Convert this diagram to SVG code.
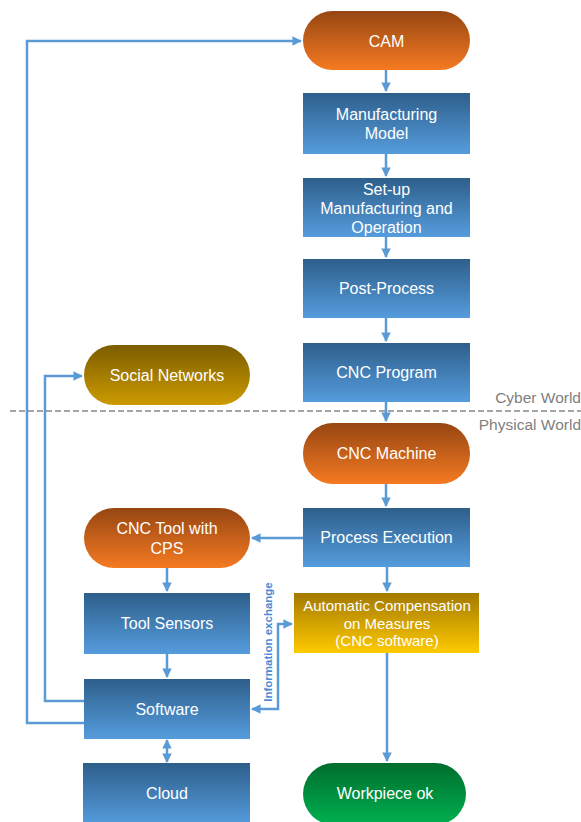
<svg xmlns="http://www.w3.org/2000/svg" width="581" height="822" viewBox="0 0 581 822">
<defs>
<linearGradient id="gBlue" x1="0" y1="0" x2="0" y2="1"><stop offset="0" stop-color="#2E5F8B"/><stop offset="1" stop-color="#559CDD"/></linearGradient>
<linearGradient id="gOrange" x1="0" y1="0" x2="0" y2="1"><stop offset="0" stop-color="#964612"/><stop offset="1" stop-color="#F57A22"/></linearGradient>
<linearGradient id="gGold" x1="0" y1="0" x2="0" y2="1"><stop offset="0" stop-color="#7C5D00"/><stop offset="1" stop-color="#CC9A00"/></linearGradient>
<linearGradient id="gYellow" x1="0" y1="0" x2="0" y2="1"><stop offset="0" stop-color="#A37900"/><stop offset="1" stop-color="#FFCA00"/></linearGradient>
<linearGradient id="gGreen" x1="0" y1="0" x2="0" y2="1"><stop offset="0" stop-color="#006D2E"/><stop offset="1" stop-color="#00B04F"/></linearGradient>
<marker id="ah" viewBox="0 0 10 10" refX="9" refY="5" markerWidth="3.8" markerHeight="3.8" orient="auto-start-reverse"><path d="M0,0 L10,5 L0,10 z" fill="#5B9BD5"/></marker>
</defs>
<style>
text{font-family:"Liberation Sans",Arial,sans-serif;}
.t{fill:#fff;font-size:16px;text-anchor:middle;}
.s{font-size:15px;}
.c{fill:none;stroke:#5B9BD5;stroke-width:2.5;}
.a{marker-end:url(#ah);}
.b{marker-start:url(#ah);marker-end:url(#ah);}
.w{fill:#7F7F7F;font-size:15.5px;text-anchor:end;}
</style>
<rect width="581" height="822" fill="#fff"/>
<line x1="10" y1="411" x2="581" y2="411" stroke="#888" stroke-width="1.5" stroke-dasharray="6,3"/>
<text class="w" x="581" y="403">Cyber World</text>
<text class="w" x="581" y="430">Physical World</text>
<g id="connectors">
<path class="c a" d="M84,723 H27 V41 H301"/>
<path class="c a" d="M84,701 H45 V376 H82"/>
<path class="c a" d="M386,70 V91"/>
<path class="c a" d="M386,154 V176"/>
<path class="c a" d="M386,237 V257"/>
<path class="c a" d="M386,318 V341"/>
<path class="c a" d="M386,402 V421"/>
<path class="c a" d="M386,484 V506"/>
<path class="c a" d="M303,538 H252"/>
<path class="c a" d="M387,567 V591"/>
<path class="c a" d="M387,653 V761"/>
<path class="c a" d="M167,568 V591"/>
<path class="c a" d="M167,654 V677"/>
<path class="c b" d="M167,740 V762"/>
<path class="c b" d="M252,709 H278 V624 H292"/>
<text x="272" y="642" transform="rotate(-90 272 642)" font-size="11.5" font-weight="bold" fill="#4A8AD0" text-anchor="middle">Information exchange</text>
</g>
<g id="cam"><rect x="303" y="11" width="167" height="59" rx="29.5" fill="url(#gOrange)"/><text class="t" x="386.5" y="47">CAM</text></g>
<g id="mfgModel"><rect x="303" y="93" width="167" height="61" fill="url(#gBlue)"/><text class="t" x="386.5" y="120">Manufacturing</text><text class="t" x="386.5" y="139">Model</text></g>
<g id="setup"><rect x="303" y="178" width="167" height="59" fill="url(#gBlue)"/><text class="t" x="386.5" y="195">Set-up</text><text class="t" x="386.5" y="214">Manufacturing and</text><text class="t" x="386.5" y="233">Operation</text></g>
<g id="postProcess"><rect x="303" y="259" width="167" height="59" fill="url(#gBlue)"/><text class="t" x="386.5" y="294">Post-Process</text></g>
<g id="cncProgram"><rect x="303" y="343" width="167" height="59" fill="url(#gBlue)"/><text class="t" x="386.5" y="378">CNC Program</text></g>
<g id="social"><rect x="84" y="345" width="166" height="60" rx="30" fill="url(#gGold)"/><text class="t" x="167" y="381">Social Networks</text></g>
<g id="cncMachine"><rect x="303" y="423" width="167" height="61" rx="30" fill="url(#gOrange)"/><text class="t" x="386.5" y="459">CNC Machine</text></g>
<g id="processExec"><rect x="303" y="508" width="167" height="59" fill="url(#gBlue)"/><text class="t" x="386.5" y="543">Process Execution</text></g>
<g id="cncTool"><rect x="84" y="508" width="166" height="60" rx="30" fill="url(#gOrange)"/><text class="t" x="167" y="534">CNC Tool with</text><text class="t" x="167" y="554">CPS</text></g>
<g id="autoComp"><rect x="294" y="593" width="185" height="60" fill="url(#gYellow)"/><text class="t s" x="387" y="611">Automatic Compensation</text><text class="t s" x="387" y="629">on Measures</text><text class="t s" x="387" y="646">(CNC software)</text></g>
<g id="toolSensors"><rect x="84" y="593" width="166" height="61" fill="url(#gBlue)"/><text class="t" x="167" y="629">Tool Sensors</text></g>
<g id="software"><rect x="84" y="679" width="166" height="60" fill="url(#gBlue)"/><text class="t" x="167" y="715">Software</text></g>
<g id="cloud"><rect x="83" y="763" width="167" height="62" fill="url(#gBlue)"/><text class="t" x="167" y="799">Cloud</text></g>
<g id="workpiece"><rect x="303" y="763" width="163" height="62" rx="31" fill="url(#gGreen)"/><text class="t" x="385" y="799">Workpiece ok</text></g>
</svg>
